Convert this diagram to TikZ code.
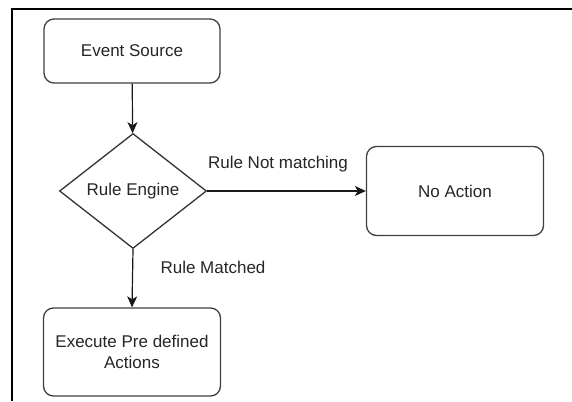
\documentclass[tikz,border=0pt]{standalone}
\usepackage{fontspec}
\setmainfont{Liberation Sans}
\usetikzlibrary{shapes.geometric,arrows.meta}

\tikzset{
  flowbox/.style={draw=black!75,line width=1.3pt,rounded corners=10pt,align=center,inner sep=0pt},
  flowarrow/.style={draw=black!90,line width=1.2pt,-{Stealth[length=11pt,width=10pt,inset=3pt]}},
  flowtext/.style={font=\fontsize{17}{21}\selectfont,text=black!85},
}

\begin{document}
\begin{tikzpicture}[x=1pt,y=1pt,yscale=-1]
\useasboundingbox (0,0) rectangle (572,401);
\fill[white] (0,0) rectangle (572,401);
% frame
\draw[line width=1.6pt] (572,9) -- (12,9) -- (12,401);

\node (source) [flowbox,flowtext,minimum width=176pt,minimum height=64pt] at (132,51) {Event Source};
\node (engine) [draw=black!80,line width=1.3pt,shape=diamond,inner sep=0pt,minimum width=147pt,minimum height=115pt,flowtext] at (133,191) {Rule Engine};
\node (noaction) [flowbox,flowtext,minimum width=177pt,minimum height=89pt] at (455,191) {No Action};
\node (execute) [flowbox,flowtext,minimum width=177pt,minimum height=88pt] at (132,352) {Execute Pre defined\\Actions};

\node (nomatch) [flowtext] at (278,164) {Rule Not matching};
\node (matched) [flowtext] at (213,267) {Rule Matched};

\draw[flowarrow] (source) -- (engine);
\draw[flowarrow] (engine.east) -- (noaction.west);
\draw[flowarrow] (engine.south) -- (execute.north);
\end{tikzpicture}
\end{document}
